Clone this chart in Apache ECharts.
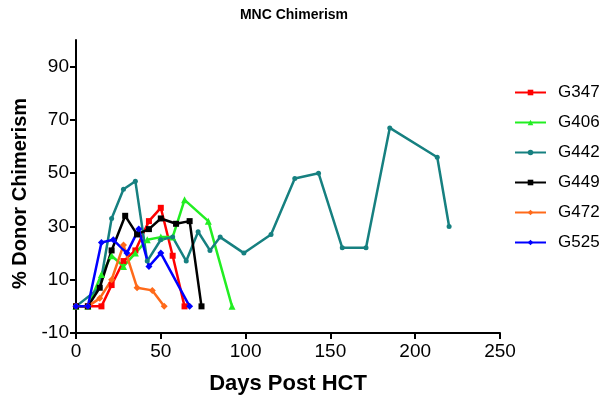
<!DOCTYPE html>
<html><head><meta charset="utf-8">
<script src="https://cdn.jsdelivr.net/npm/echarts@6/dist/echarts.min.js"></script>
<style>html,body{margin:0;padding:0;background:#fff}#c{width:600px;height:403px}</style>
</head><body><div id="c"></div>
<script>
const seriesNames = ["G347","G406","G442","G449","G472","G525"];
const G347 = [[0,0],[7,0],[15,0],[21,8],[28,17],[35,21],[43,32],[50,37],[57,19],[64,0]];
const G406 = [[0,0],[7,0],[15,12],[21,19],[28,15],[35,20],[42,25],[50,26],[57,26],[64,40],[78,32],[92,0]];
const G442 = [[0,0],[14,7],[21,33],[28,44],[35,47],[42,17],[50,25],[57,26],[65,17],[72,28],[79,21],[85,26],[99,20],[115,27],[129,48],[143,50],[157,22],[171,22],[185,67],[213,56],[220,30]];
const G449 = [[0,0],[7,0],[14,7],[21,21],[29,34],[36,27],[43,29],[50,33],[59,31],[67,32],[74,0]];
const G472 = [[0,0],[7,0],[14,3],[21,10],[28,23],[36,7],[45,6],[52,0]];
const G525 = [[0,0],[7,0],[15,24],[22,25],[30,20],[37,29],[43,15],[50,20],[67,0]];
const yTicks = [-10,10,30,50,70,90];
const xTicks = [0,50,100,150,200,250];

const dataList = [G347,G406,G442,G449,G472,G525];
const colors = ["#ff0000","#22ee22","#168080","#000000","#ff6a1a","#0000ff"];
const symbols = ["rect","triangle","circle","rect","diamond","diamond"];
const font = "Liberation Sans, Arial, sans-serif";

const chart = echarts.init(document.getElementById('c'), null, {renderer:'canvas'});
chart.setOption({
  animation:false,
  backgroundColor:'#fff',
  title:{text:'MNC Chimerism', left:289, top:3, textAlign:'center',
    textStyle:{fontFamily:font, fontWeight:'bold', fontSize:14, color:'#000'}},
  legend:{orient:'vertical', left:509, top:79, itemWidth:31, itemHeight:7, itemGap:13,
    data:seriesNames,
    textStyle:{fontFamily:font, fontSize:17, color:'#000', padding:[0,0,0,7]}},
  grid:{left:76, right:100, top:40, bottom:70, containLabel:false},
  xAxis:{type:'value', min:0, max:250, interval:50,
    name:'Days Post HCT', nameLocation:'middle', nameGap:40,
    nameTextStyle:{fontFamily:font, fontWeight:'bold', fontSize:22, color:'#000'},
    axisLine:{onZero:false, lineStyle:{color:'#000', width:2}},
    axisTick:{length:6, lineStyle:{color:'#000', width:2}},
    axisLabel:{fontFamily:font, fontSize:19, color:'#000', margin:9},
    splitLine:{show:false}},
  yAxis:{type:'value', min:-10, max:100,
    name:'% Donor Chimerism', nameLocation:'middle', nameGap:44, nameRotate:90,
    nameTextStyle:{fontFamily:font, fontWeight:'bold', fontSize:20, color:'#000', padding:[0,14,0,0]},
    axisLine:{onZero:false, lineStyle:{color:'#000', width:2}},
    axisTick:{length:6, customValues:yTicks, lineStyle:{color:'#000', width:2}},
    axisLabel:{fontFamily:font, fontSize:19, color:'#000', margin:7, customValues:yTicks},
    splitLine:{show:false}},
  series: seriesNames.map((n,i)=>({
    name:n, type:'line', data:dataList[i], symbol:symbols[i],
    symbolSize: symbols[i]==='circle'?5:(symbols[i]==='rect'?6:7),
    showAllSymbol:true,
    itemStyle:{color:colors[i]},
    lineStyle:{color:colors[i], width:2.5}
  }))
});
</script></body></html>
